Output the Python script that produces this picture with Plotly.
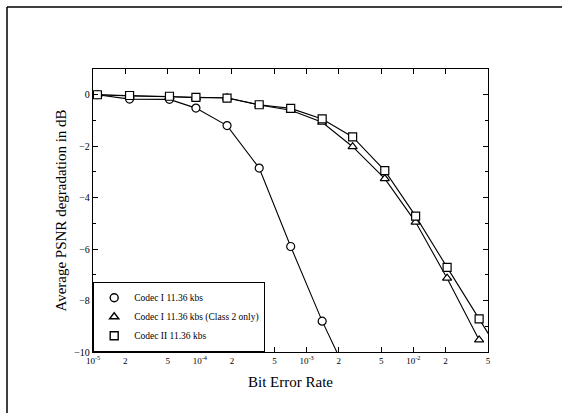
import plotly.graph_objects as go

# Bit error rates (x)
ber = [1.1e-5, 2.2e-5, 5.2e-5, 9.2e-5, 1.8e-4, 3.6e-4, 7.1e-4, 1.4e-3,
       2.7e-3, 5.4e-3, 1.05e-2, 2.07e-2, 4.13e-2, 8.2e-2]

codec1 = [0.0, -0.17, -0.18, -0.52, -1.2, -2.85, -5.9, -8.8, -11.3]
codec1_class2 = [0.0, -0.05, -0.08, -0.12, -0.12, -0.4, -0.6, -1.07, -2.02,
                 -3.26, -4.95, -7.13, -9.53]
codec2 = [0.0, -0.03, -0.06, -0.1, -0.13, -0.39, -0.53, -0.94, -1.64,
          -2.95, -4.72, -6.71, -8.71, -10.7]

names = ["Codec I 11.36 kbs", "Codec I 11.36 kbs (Class 2 only)", "Codec II 11.36 kbs"]
series = [codec1, codec1_class2, codec2]
symbols = ["circle", "triangle-up", "square"]

xtickvals = [1e-5, 2e-5, 5e-5, 1e-4, 2e-4, 5e-4, 1e-3, 2e-3, 5e-3, 1e-2, 2e-2, 5e-2]
xticktext = ["10<sup>-5</sup>", "2", "5", "10<sup>-4</sup>", "2", "5",
             "10<sup>-3</sup>", "2", "5", "10<sup>-2</sup>", "2", "5"]
ytickvals = [0, -2, -4, -6, -8, -10]

FONT = "Liberation Serif, Times New Roman, serif"

fig = go.Figure()
for name, ys, sym in zip(names, series, symbols):
    fig.add_trace(go.Scatter(
        x=ber[:len(ys)], y=ys, mode="lines+markers", showlegend=False,
        line=dict(color="black", width=1.1),
        marker=dict(symbol=sym, size=8, color="white",
                    line=dict(color="black", width=1.2)),
        cliponaxis=True,
    ))
for name, sym in zip(names, symbols):
    fig.add_trace(go.Scatter(
        x=[None], y=[None], mode="markers", name=name,
        marker=dict(symbol=sym, size=8, color="white",
                    line=dict(color="black", width=1.4)),
    ))

fig.update_layout(
    width=562, height=413,
    margin=dict(l=93, r=74, t=69, b=61),
    paper_bgcolor="white", plot_bgcolor="white",
    font=dict(family=FONT, color="black", size=10),
    showlegend=True,
    legend=dict(x=0, y=0, xanchor="left", yanchor="bottom",
                bgcolor="white", bordercolor="black", borderwidth=1.2,
                font=dict(size=9.5, family=FONT), itemwidth=30,
                tracegroupgap=0),
    xaxis=dict(type="log", range=[-5, -1.301],
               tickvals=xtickvals, ticktext=xticktext,
               ticks="inside", ticklen=5, tickcolor="black",
               showline=True, linecolor="black", linewidth=1.3, mirror="ticks",
               showgrid=False, zeroline=False,
               tickfont=dict(size=9, family=FONT),
               title=dict(text="Bit Error Rate", font=dict(size=15, family=FONT), standoff=11)),
    yaxis=dict(range=[-10, 1], tickvals=ytickvals,
               ticks="inside", ticklen=5, tickcolor="black",
               minor=dict(dtick=1, ticks="inside", ticklen=3, tickcolor="black"),
               showline=True, linecolor="black", linewidth=1.3, mirror="ticks",
               showgrid=False, zeroline=False,
               tickfont=dict(size=10, family=FONT),
               title=dict(text="Average PSNR degradation in dB",
                          font=dict(size=15, family=FONT), standoff=3)),
)

# outer frame of the scanned figure (top and left edges)
fig.add_shape(type="line", xref="paper", yref="paper",
              x0=-0.2177, x1=1.19, y0=1.219, y1=1.219,
              line=dict(color="black", width=1.5))
fig.add_shape(type="line", xref="paper", yref="paper",
              x0=-0.2177, x1=-0.2177, y0=1.219, y1=-0.22,
              line=dict(color="black", width=1.5))

fig.write_html("out.html")
